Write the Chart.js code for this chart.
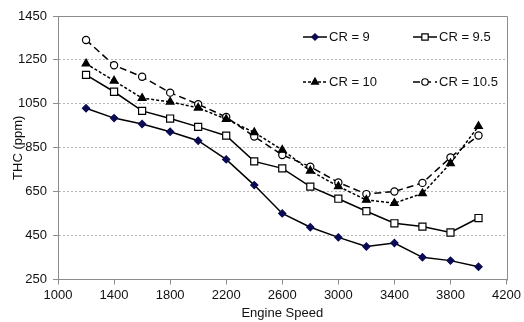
<!DOCTYPE html>
<html>
<head>
<meta charset="utf-8">
<script src="https://cdn.jsdelivr.net/npm/chart.js@4"></script>
<style>
  html, body { margin: 0; padding: 0; background: #fff; }
  #wrap { width: 524px; height: 322px; }
</style>
</head>
<body>
<div id="wrap"><canvas id="thc" width="524" height="322"></canvas></div>
<script>
// engine speed (rpm) and THC (ppm) per compression ratio
const speeds = [1200, 1400, 1600, 1800, 2000, 2200, 2400, 2600, 2800, 3000, 3200, 3400, 3600, 3800, 4000];
const cr9   = [1030, 985, 958, 923, 882, 797, 680, 551, 488, 442, 400, 416, 351, 336, 308];
const cr95  = [1182, 1105, 1018, 983, 945, 905, 788, 756, 673, 618, 561, 506, 491, 464, 530];
const cr10  = [1233, 1155, 1076, 1059, 1032, 980, 920, 840, 745, 674, 612, 598, 642, 779, 948];
const cr105 = [1341, 1226, 1173, 1101, 1048, 990, 901, 817, 764, 692, 639, 651, 690, 806, 906];
const seriesNames = ["CR = 9", "CR = 9.5", "CR = 10", "CR = 10.5"];
const xTicks = [1000, 1400, 1800, 2200, 2600, 3000, 3400, 3800, 4200];
const yTicks = [250, 450, 650, 850, 1050, 1250, 1450];

const FONT = "'Liberation Sans', Arial, sans-serif";
const AXIS = "#8c8c8c";

function pts(ys) {
  return ys.map((y, i) => ({ x: speeds[i], y: y }));
}

const styles = [
  { pointStyle: "rectRot", pointRadius: 3.6, pointBackgroundColor: "#0b0b55", pointBorderColor: "#0b0b55", borderDash: [] },
  { pointStyle: "rect", pointRadius: 5, pointBackgroundColor: "#fff", pointBorderColor: "#000", borderDash: [] },
  { pointStyle: "triangle", pointRadius: 4.5, pointBackgroundColor: "#000", pointBorderColor: "#000", borderDash: [3, 2] },
  { pointStyle: "circle", pointRadius: 3.6, pointBackgroundColor: "#fff", pointBorderColor: "#000", borderDash: [7, 4] }
];

const datasets = [cr9, cr95, cr10, cr105].map((vals, i) => Object.assign({
  label: seriesNames[i],
  data: pts(vals),
  borderColor: "#000",
  borderWidth: 1.5,
  pointBorderWidth: 1.2,
  tension: 0
}, styles[i]));

// frame around the plot + in-plot legend
const framePlugin = {
  id: "frame",
  afterDraw(chart) {
    const { ctx, chartArea: a } = chart;
    ctx.save();
    ctx.strokeStyle = AXIS;
    ctx.lineWidth = 1;
    ctx.beginPath();
    ctx.moveTo(Math.round(a.left) + 0.5, Math.round(a.top) + 0.5);
    ctx.lineTo(Math.round(a.right) + 0.5, Math.round(a.top) + 0.5);
    ctx.lineTo(Math.round(a.right) + 0.5, Math.round(a.bottom) + 0.5);
    ctx.stroke();

    const slots = [
      { x: 303, y: 37 }, { x: 413, y: 37 },
      { x: 303, y: 82 }, { x: 413, y: 82 }
    ];
    ctx.font = "13px " + FONT;
    ctx.textBaseline = "middle";
    ctx.fillStyle = "#111";
    chart.data.datasets.forEach((ds, i) => {
      const s = slots[i];
      ctx.save();
      ctx.strokeStyle = ds.borderColor;
      ctx.lineWidth = 1.5;
      ctx.setLineDash(ds.borderDash);
      ctx.beginPath();
      ctx.moveTo(s.x, s.y);
      ctx.lineTo(s.x + 24, s.y);
      ctx.stroke();
      ctx.setLineDash([]);
      ctx.fillStyle = ds.pointBackgroundColor;
      ctx.strokeStyle = ds.pointBorderColor;
      ctx.lineWidth = 1.2;
      Chart.helpers.drawPoint(ctx, { pointStyle: ds.pointStyle, radius: ds.pointRadius * 0.9, rotation: 0, borderWidth: 1.2 }, s.x + 12, s.y);
      ctx.restore();
      ctx.fillText(ds.label, s.x + 26, s.y + 0.5);
    });
    ctx.restore();
  }
};

new Chart(document.getElementById("thc"), {
  type: "line",
  data: { datasets: datasets },
  options: {
    responsive: false,
    animation: false,
    layout: { padding: { top: 16, right: 16, left: 0, bottom: 0 } },
    plugins: { legend: { display: false }, tooltip: { enabled: false } },
    scales: {
      x: {
        type: "linear",
        min: 1000,
        max: 4200,
        afterBuildTicks: s => { s.ticks = xTicks.map(v => ({ value: v })); },
        afterFit: s => { s.height = 42.5; },
        ticks: { color: "#111", font: { family: FONT, size: 13 }, padding: 3, maxRotation: 0, callback: v => String(v) },
        grid: { drawOnChartArea: false, color: AXIS, tickLength: 5 },
        border: { color: AXIS, width: 1 },
        title: { display: true, text: "Engine Speed", color: "#111", font: { family: FONT, size: 13 }, padding: { top: 0, bottom: 1 } }
      },
      y: {
        min: 250,
        max: 1450,
        afterBuildTicks: s => { s.ticks = yTicks.map(v => ({ value: v })); },
        afterFit: s => { s.width = 58; },
        ticks: { color: "#111", font: { family: FONT, size: 13 }, padding: 6, callback: v => String(v) },
        grid: { color: "#b4b4b4", tickColor: AXIS, tickLength: 5, tickBorderDash: [] },
        border: { color: AXIS, width: 1, dash: [2, 2] },
        title: { display: true, text: "THC (ppm)", color: "#111", font: { family: FONT, size: 13 }, padding: { top: 11, bottom: 0 } }
      }
    }
  },
  plugins: [framePlugin]
});
</script>
</body>
</html>
